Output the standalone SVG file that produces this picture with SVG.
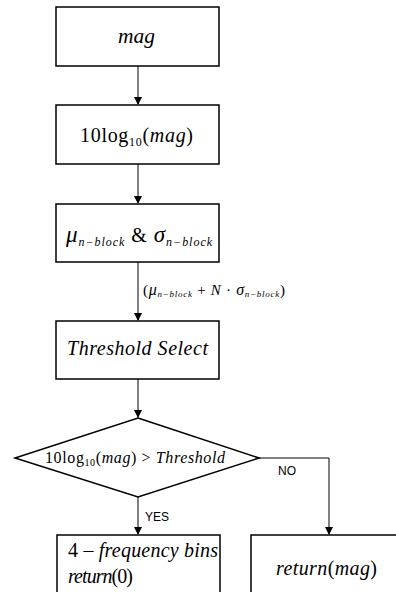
<svg xmlns="http://www.w3.org/2000/svg" width="396" height="592" viewBox="0 0 396 592">
<style>
.box{fill:#fff;stroke:#000;stroke-width:1.5}
.ln{fill:none;stroke:#000;stroke-width:1}
.t{font-family:"Liberation Serif","Times New Roman",serif;font-size:20px;fill:#000}
.i{font-style:italic}
.s{font-size:12px}
.lab{font-family:"Liberation Sans",Arial,sans-serif;font-size:12px;fill:#000}
</style>
<defs>
<marker id="ah" markerWidth="8" markerHeight="10" refX="7" refY="4" orient="auto" markerUnits="userSpaceOnUse" viewBox="0 0 8 8">
<path d="M0,0 L8,4 L0,8 z" fill="#000"/>
</marker>
</defs>
<rect width="396" height="592" fill="#fff"/>
<g id="connectors">
<line class="ln" x1="138" y1="66" x2="138" y2="104" marker-end="url(#ah)"/>
<line class="ln" x1="138" y1="164" x2="138" y2="203" marker-end="url(#ah)"/>
<line class="ln" x1="138" y1="262" x2="138" y2="320" marker-end="url(#ah)"/>
<line class="ln" x1="138" y1="379" x2="138" y2="417" marker-end="url(#ah)"/>
<line class="ln" x1="138" y1="497" x2="138" y2="534" marker-end="url(#ah)"/>
<polyline class="ln" points="259,458 329,458 329,534" marker-end="url(#ah)"/>
<text class="t" x="143" y="295" style="font-size:15px" textLength="142" lengthAdjust="spacing">(<tspan class="i" style="font-size:16px">μ</tspan><tspan class="i" style="font-size:9px" dy="2">n−block</tspan><tspan dy="-2"> + </tspan><tspan class="i">N</tspan> · <tspan class="i" style="font-size:16px">σ</tspan><tspan class="i" style="font-size:9px" dy="2">n−block</tspan><tspan dy="-2">)</tspan></text>
<text class="lab" x="278" y="475">NO</text>
<text class="lab" x="145" y="521">YES</text>
</g>
<g id="n1">
<rect class="box" x="56" y="7" width="163" height="59"/>
<text class="t i" x="118" y="43" style="font-size:21px" textLength="37" lengthAdjust="spacingAndGlyphs">mag</text>
</g>
<g id="n2">
<rect class="box" x="56" y="105" width="163" height="59"/>
<text class="t" x="80" y="142" textLength="113" lengthAdjust="spacing">10log<tspan class="s" dy="4">10</tspan><tspan dy="-4">(</tspan><tspan class="i">mag</tspan>)</text>
</g>
<g id="n3">
<rect class="box" x="56" y="204" width="163" height="58"/>
<text class="t" x="66" y="242" textLength="146" lengthAdjust="spacing"><tspan class="i" style="font-size:23px">μ</tspan><tspan class="i s" dy="4">n−block</tspan><tspan dy="-4"> &amp; </tspan><tspan class="i" style="font-size:23px">σ</tspan><tspan class="i s" dy="4">n−block</tspan></text>
</g>
<g id="n4">
<rect class="box" x="56" y="321" width="163" height="58"/>
<text class="t i" x="67" y="355" textLength="141" lengthAdjust="spacing">Threshold Select</text>
</g>
<g id="n5">
<polygon class="box" points="138,418 259,458 138,497 15,458"/>
<text class="t" x="45" y="463" style="font-size:16px" textLength="180" lengthAdjust="spacing">10log<tspan style="font-size:10px" dy="3">10</tspan><tspan dy="-3">(</tspan><tspan class="i">mag</tspan>) &gt; <tspan class="i">Threshold</tspan></text>
</g>
<g id="n6">
<rect class="box" x="57" y="535" width="163" height="70"/>
<text class="t" x="68" y="557" textLength="150" lengthAdjust="spacing">4 – <tspan class="i">frequency bins</tspan></text>
<text class="t" x="68" y="583" textLength="65" lengthAdjust="spacing"><tspan class="i">return</tspan>(0)</text>
</g>
<g id="n7">
<rect class="box" x="251" y="535" width="163" height="70"/>
<text class="t" x="276" y="575" textLength="101" lengthAdjust="spacing"><tspan class="i">return</tspan>(<tspan class="i">mag</tspan>)</text>
</g>
</svg>
